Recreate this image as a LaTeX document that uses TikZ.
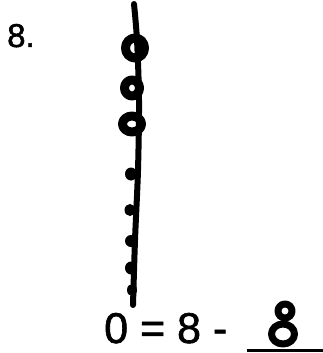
\documentclass[tikz,border=0pt]{standalone}
\usepackage{fontspec}
\setmainfont{Liberation Sans}[FakeBold=1.5]

\begin{document}
\begin{tikzpicture}[x=1pt, y=-1pt, pen/.style={line width=6pt, line cap=round, line join=round}]
	\useasboundingbox (0,0) rectangle (323,353);
	\node[anchor=base west, inner sep=0pt, font=\fontsize{33}{33}\selectfont] (num) at (7,47) {8.};
	% the number line
	\draw[pen] plot[smooth] coordinates {(134,4) (137,40) (139,100) (138,170) (135,240) (133,305)};
	\draw[pen, line width=9pt] (135,48) circle[x radius=9.5, y radius=10];
	\draw[pen, line width=9pt] (132,88) circle[x radius=7.5, y radius=8];
	\draw[pen, line width=9pt] (132,124) circle[x radius=9.5, y radius=8];
	\fill (131,174) circle[x radius=6, y radius=6.5];
	\fill (130,210) circle[x radius=5.5, y radius=6];
	\fill (131,241) circle[x radius=6, y radius=6];
	\fill (131,268) circle[x radius=6, y radius=6.5];
	\fill (132,290) circle[x radius=5, y radius=6];
	% the answer
	\node[anchor=base west, inner sep=0pt, font=\fontsize{43}{43}\selectfont] (eq) at (104,343) {0 = 8 -};
	\draw[pen, line width=7pt] (285,311) circle[radius=7];
	\draw[pen, line width=7pt] (283,334) circle[x radius=11.5, y radius=10];
	\draw[line width=3pt] (247,350.5) -- (323,350.5);
\end{tikzpicture}
\end{document}
